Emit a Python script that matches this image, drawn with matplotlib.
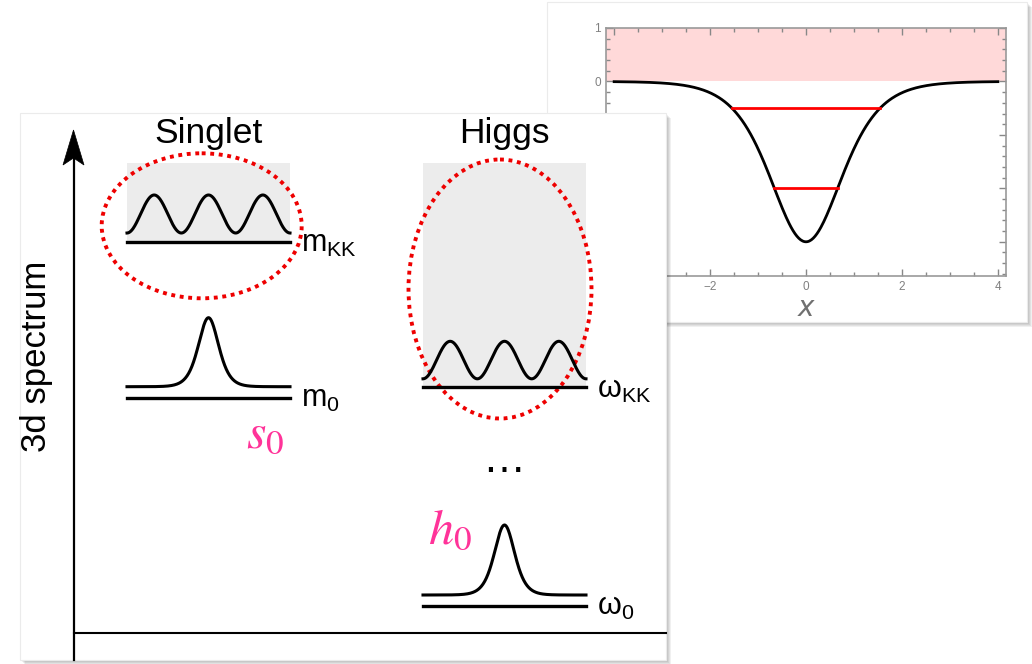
import numpy as np
import matplotlib
matplotlib.use('Agg')
import matplotlib.pyplot as plt
from matplotlib.patches import Rectangle, Ellipse, Polygon
from matplotlib.ticker import MultipleLocator

plt.rcParams['font.family'] = ['Liberation Sans', 'DejaVu Sans']
plt.rcParams['mathtext.fontset'] = 'stix'

# Data
columns = ['Singlet', 'Higgs']
kk_labels = [r'$\mathregular{m_{KK}}$', r'$\mathregular{ω_{KK}}$']
zero_labels = [r'$\mathregular{m_0}$', r'$\mathregular{ω_0}$']
mode_labels = [r'$s_0$', r'$h_0$']
axis_label = '3d spectrum'
kk_periods = 3

# inset: potential well and its bound levels
well_depth = 3.0
well_range = [-4.0, 4.0]
bound_levels = [-2.0, -0.5]
x_ticks = [-4, -2, 0, 2, 4]
y_ticks = [1, 0, -1, -2, -3]

pink = '#ff3399'

fig = plt.figure(figsize=(10.32, 6.64), dpi=100)

# background layer (pixel coords, y down) for the inset card
bg = fig.add_axes([0, 0, 1, 1], zorder=0)
bg.set_xlim(0, 1032)
bg.set_ylim(664, 0)
bg.axis('off')


def card(ax, x0, y0, x1, y1):
    for d in range(1, 6):
        ax.add_patch(Rectangle((x0 + d, y0 + d), x1 - x0, y1 - y0,
                               fc='black', ec='none', alpha=0.06))
    ax.add_patch(Rectangle((x0, y0), x1 - x0, y1 - y0,
                           fc='white', ec='#ebebeb', lw=0.8))


card(bg, 547, 2, 1027, 322)
bg.text(806, 308, 'x', fontsize=20, fontstyle='italic', color='#707070',
        ha='center', va='center', family='DejaVu Sans')

# inset plot
ins = fig.add_axes([606 / 1032, 1 - 276 / 664, 400 / 1032, 248 / 664], zorder=1)
xs = np.linspace(well_range[0], well_range[1], 400)
vs = -well_depth / np.cosh(xs) ** 2
ins.axhspan(0, 1, color='#ffd9d9', lw=0)
ins.plot(xs, vs, color='black', lw=2)
for lev in bound_levels:
    xt = np.arccosh(np.sqrt(well_depth / -lev))
    ins.plot([-xt, xt], [lev, lev], color='red', lw=2)
ins.set_xlim(-4.17, 4.17)
ins.set_ylim(-3.64, 1.0)
ins.set_xticks(x_ticks)
ins.set_yticks(y_ticks)
ins.xaxis.set_minor_locator(MultipleLocator(0.5))
ins.yaxis.set_minor_locator(MultipleLocator(0.2))
ins.tick_params(which='both', direction='in', top=True, right=True,
                color='#888888', labelcolor='#808080', labelsize=8.5, width=1)
ins.tick_params(which='major', length=5)
ins.tick_params(which='minor', length=3)
for s in ins.spines.values():
    s.set_color('#999999')
    s.set_linewidth(1.2)

# main card on top
ax = fig.add_axes([0, 0, 1, 1], zorder=2)
ax.set_xlim(0, 1032)
ax.set_ylim(664, 0)
ax.axis('off')
ax.patch.set_visible(False)
card(ax, 20, 113, 666, 660)

# axes of the spectrum
ax.plot([73.5, 73.5], [660, 156], color='black', lw=1.6)
ax.add_patch(Polygon([(73.5, 130), (63, 165), (73.5, 158), (84, 165)],
                     closed=True, fc='black', ec='black', lw=0.5))
ax.plot([73.5, 666], [632.7, 632.7], color='black', lw=1.5)
ax.text(37, 356, axis_label, rotation=90, fontsize=25, ha='center', va='center')

# column layout (pixels)
col_x = [(127, 290), (423, 586)]
title_y = [142.7, 142.5]
box_top = [163, 163]
kk_y = [241.5, 387.3]
wave_amp = [38, 37.5]
zero_y = [(386.7, 398.3), (595, 605.8)]
peak_h = [69, 70]
peak_w = 13.6
ell = [(201.7, 225.8, 200, 145), (500, 289, 183, 259)]
mode_xy = [(246, 447), (428, 543)]

for i, name in enumerate(columns):
    x0, x1 = col_x[i]
    xc = (x0 + x1) / 2
    ax.text(xc, title_y[i], name, fontsize=25.5, ha='center', va='baseline')

    # KK continuum
    ax.add_patch(Rectangle((x0, box_top[i]), x1 - x0, kk_y[i] - box_top[i],
                           fc='#ececec', ec='none'))
    u = np.linspace(0, kk_periods, 400)
    wx = x0 + (x1 - x0) * u / kk_periods
    trough = kk_y[i] - 8.5
    wy = trough - wave_amp[i] * (1 - np.cos(2 * np.pi * u)) / 2
    ax.plot(wx, wy, color='black', lw=2.2)
    ax.plot([x0, x1], [kk_y[i], kk_y[i]], color='black', lw=2.4)
    ax.text(x1 + 11, kk_y[i] + 10.5, kk_labels[i], fontsize=22, va='baseline')

    # zero mode
    px = np.linspace(x0, x1, 400)
    py = zero_y[i][0] - peak_h[i] / np.cosh((px - xc) / peak_w) ** 2
    ax.plot(px, py, color='black', lw=2.2)
    ax.plot([x0, x1], [zero_y[i][1], zero_y[i][1]], color='black', lw=2.4)
    ax.text(x1 + 11, zero_y[i][1] + 9, zero_labels[i], fontsize=22, va='baseline')

    ex, ey, ew, eh = ell[i]
    ax.add_patch(Ellipse((ex, ey), ew, eh, fill=False, ec='#ee0000', lw=2.8,
                         linestyle=(0, (1, 1.2))))
    ax.text(mode_xy[i][0], mode_xy[i][1], mode_labels[i], fontsize=36,
            color=pink, va='baseline')

ax.text(504, 472, '…', fontsize=31, ha='center', va='baseline')

fig.savefig('out.png', dpi=100)
